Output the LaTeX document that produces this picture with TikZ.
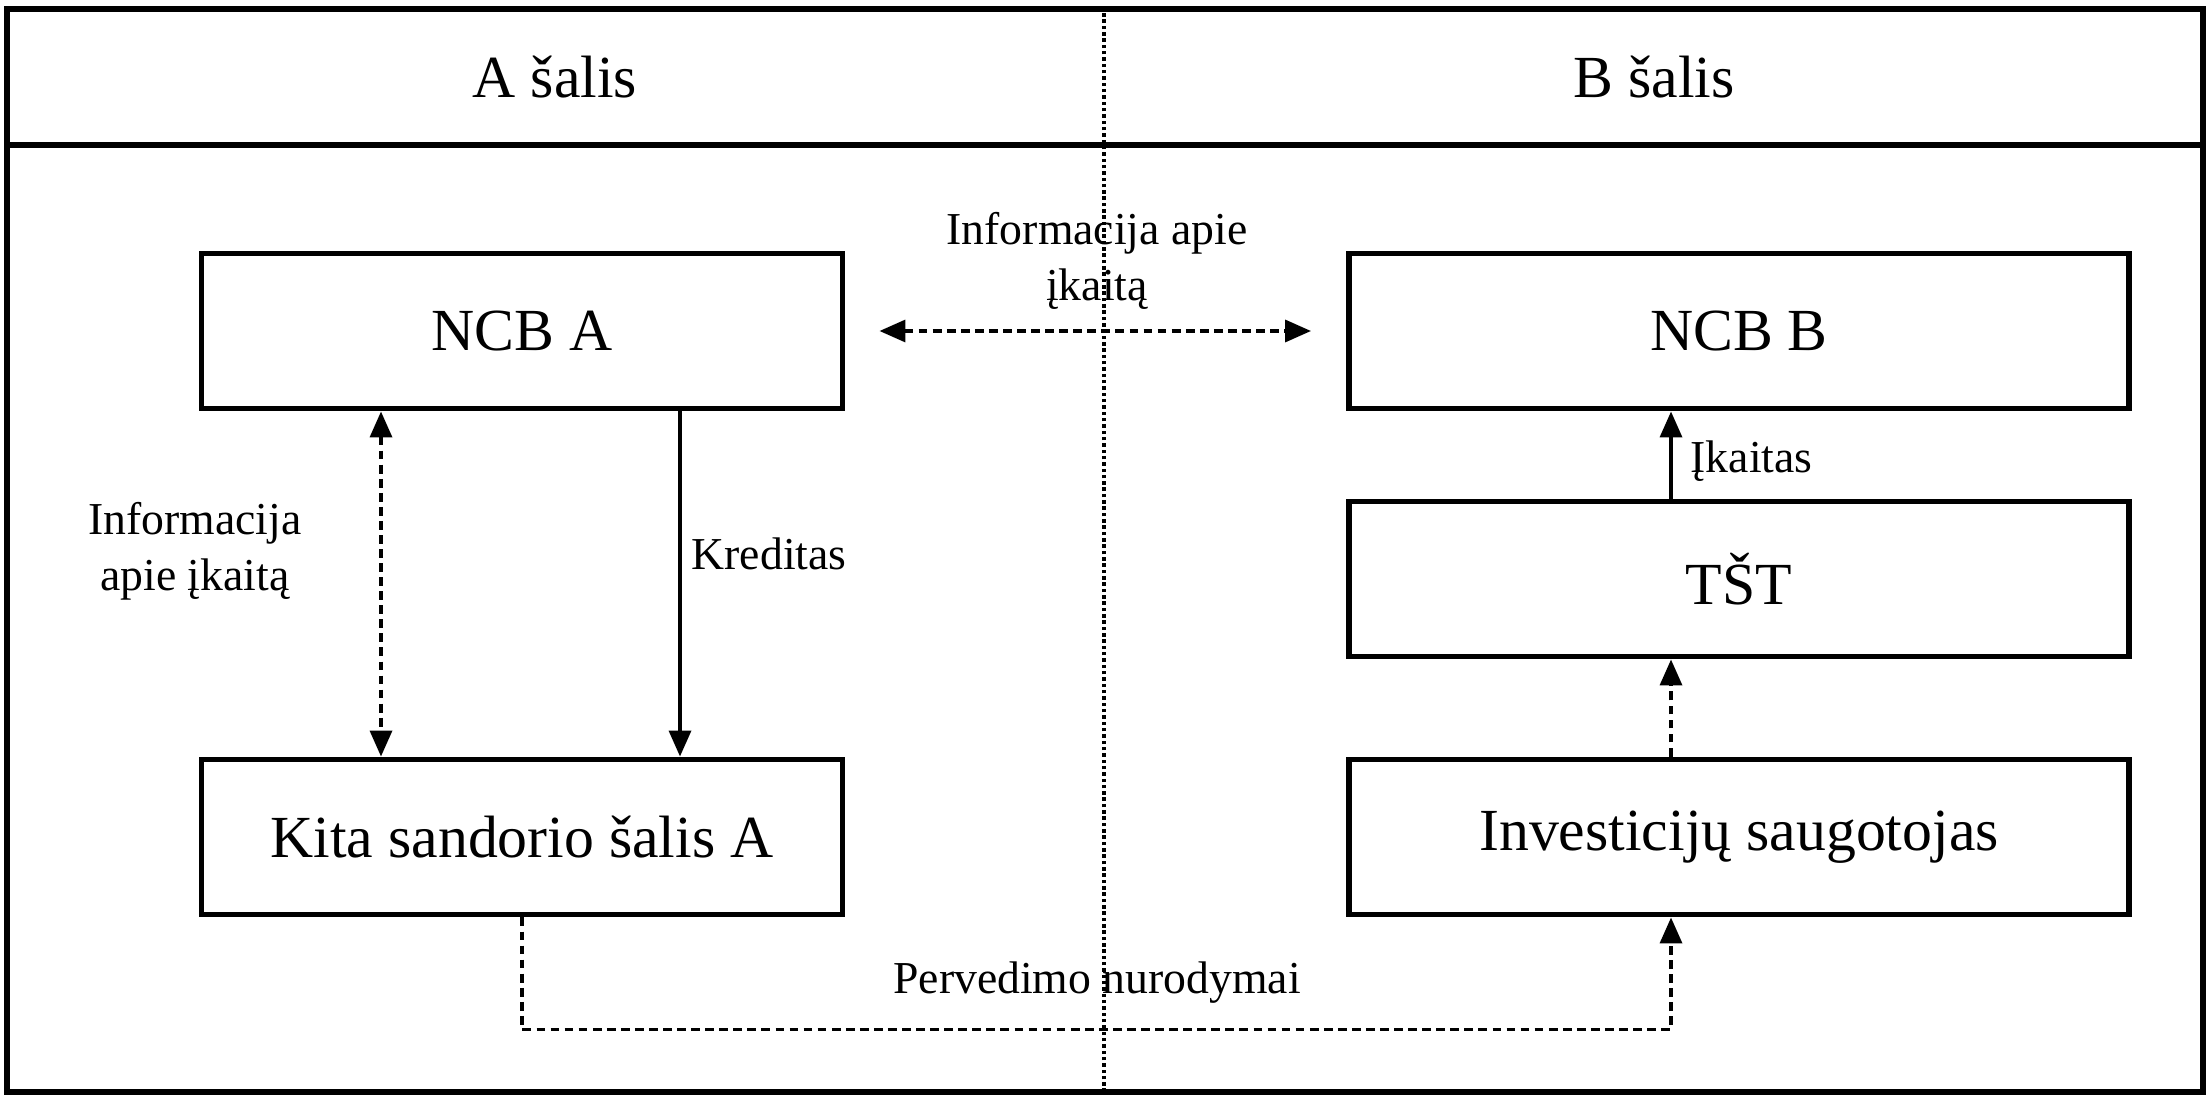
\documentclass[tikz,border=0pt]{standalone}
\usepackage{fontspec}
\setmainfont{Liberation Serif}
\usetikzlibrary{arrows.meta}
\tikzset{
  party/.style={draw, line width=1.7pt, minimum height=1.55cm, inner sep=0pt,
    font=\fontsize{17}{20}\selectfont},
  flow/.style={line width=1pt},
  infoflow/.style={flow, dash pattern=on 2.5pt off 1.5pt},
  lbl/.style={font=\fontsize{13}{16}\selectfont, align=center, inner sep=0pt},
}
\begin{document}
\begin{tikzpicture}[>={Triangle[width=0.22cm,length=0.26cm]}]
  \useasboundingbox (0,0) rectangle (22.11,10.99);
  % Frame and header
  \draw[line width=1.7pt] (0.07,0.07) rectangle (22.03,10.90);
  \draw[line width=1.7pt] (0.07,9.54) -- (22.03,9.54);
  \draw[line width=0.9pt, dash pattern=on 1pt off 0.8pt] (11.04,0.07) -- (11.04,10.90);
  \node[font=\fontsize{17}{20}\selectfont] (hdrA) at (5.55,10.22) {A šalis};
  \node[font=\fontsize{17}{20}\selectfont] (hdrB) at (16.54,10.22) {B šalis};
  % Country A
  \node[party, minimum width=6.41cm] (ncbA) at (5.22,7.68) {NCB A};
  \node[party, minimum width=6.41cm] (kitaA) at (5.22,2.62) {Kita sandorio šalis A};
  % Country B
  \node[party, minimum width=7.80cm] (ncbB) at (17.39,7.68) {NCB B};
  \node[party, minimum width=7.80cm] (tst) at (17.39,5.20) {TŠT};
  \node[party, minimum width=7.80cm] (saug) at (17.39,2.62) {Investicijų saugotojas};
  % Flows
  \draw[infoflow, <->, shorten <=0.34cm, shorten >=0.35cm] (ncbA) -- (ncbB);
  \node[lbl] (infoAB) at (10.97,8.38) {Informacija apie\\įkaitą};
  \draw[infoflow, <->] ([xshift=-1.41cm]ncbA.south) -- ([xshift=-1.41cm]kitaA.north);
  \node[lbl] (infoA) at (1.95,5.48) {Informacija\\apie įkaitą};
  \draw[flow, ->] ([xshift=1.58cm]ncbA.south) -- ([xshift=1.58cm]kitaA.north);
  \node[lbl, anchor=west] (kred) at (6.91,5.45) {Kreditas};
  \draw[flow, ->] ([xshift=-0.68cm]tst.north) -- ([xshift=-0.68cm]ncbB.south);
  \node[lbl, anchor=west] (ikait) at (16.90,6.38) {Įkaitas};
  \draw[infoflow, ->] ([xshift=-0.68cm]saug.north) -- ([xshift=-0.68cm]tst.south);
  % Transfer orders
  \draw[infoflow, ->] (kitaA.south) -- ++(0,-1.12) -| ([xshift=-0.68cm]saug.south);
  \node[lbl] (perv) at (10.97,1.16) {Pervedimo nurodymai};
\end{tikzpicture}
\end{document}
